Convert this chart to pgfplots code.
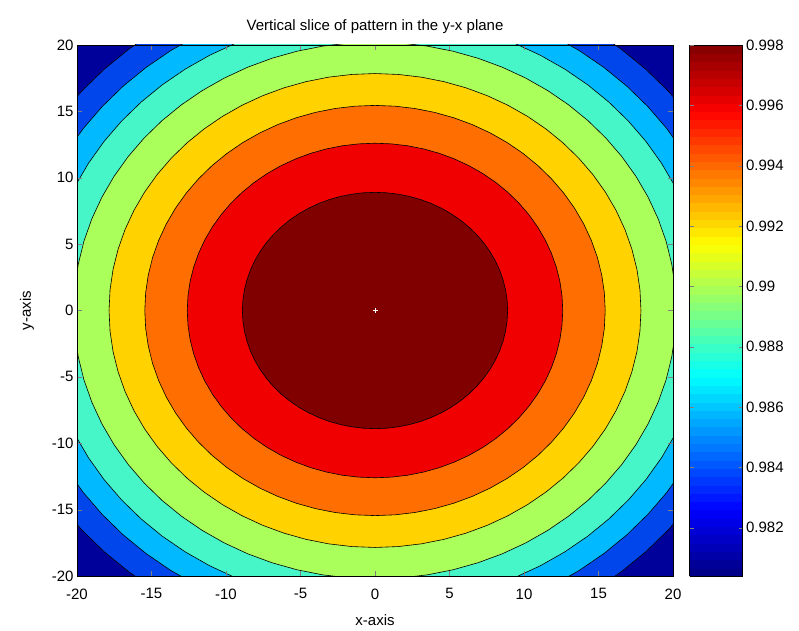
\documentclass[border=0pt]{standalone}
\usepackage{pgfplots}
\pgfplotsset{compat=1.18}
\usepackage{fontspec}
\setmainfont{Liberation Sans}
\definecolor{cDB}{RGB}{0,0,155}
\definecolor{cB}{RGB}{0,70,235}
\definecolor{cSky}{RGB}{0,185,255}
\definecolor{cTq}{RGB}{70,245,200}
\definecolor{cLG}{RGB}{170,255,90}
\definecolor{cY}{RGB}{255,210,0}
\definecolor{cO}{RGB}{255,110,0}
\definecolor{cR}{RGB}{240,0,0}
\definecolor{cDR}{RGB}{128,0,0}
\begin{document}
\begin{tikzpicture}
\useasboundingbox (-77pt,-54pt) rectangle (722pt,576pt);
\begin{axis}[
  scale only axis, width=596pt, height=531pt,
  xmin=-20, xmax=20, ymin=-20, ymax=20,
  xtick={-20,-15,-10,-5,0,5,10,15,20},
  ytick={-20,-15,-10,-5,0,5,10,15,20},
  tick align=inside, major tick length=5pt,
  axis on top,
  axis line style={line width=0.6pt},
  axis background/.style={fill=cDB},
  title={Vertical slice of pattern in the y-x plane},
  title style={font=\fontsize{15}{18}\selectfont, yshift=2pt},
  xlabel={x-axis}, ylabel={y-axis},
  xticklabel shift=9pt, xlabel shift=9pt, ylabel shift=11pt,
  every tick label/.append style={font=\fontsize{15}{18}\selectfont},
  label style={font=\fontsize{15}{18}\selectfont},
  /pgf/number format/assume math mode=true,
  colormap/jet,
  point meta min=0.9804, point meta max=0.998,
  colorbar sampled,
  colorbar style={
    samples=65,
    at={(parent axis.north east)}, anchor=north west, xshift=8pt,
    width=53pt,
    ytick={0.982,0.984,0.986,0.988,0.99,0.992,0.994,0.996,0.998},
    scaled y ticks=false,
    tick align=inside, major tick length=4pt,
    yticklabel style={font=\fontsize{15}{18}\selectfont,
      /pgf/number format/.cd, fixed, precision=3, assume math mode=true},
  },
]
% contour rings given as (angle in degrees, radius)
\addplot[data cs=polar, fill=cB, draw=black, line width=0.6pt] coordinates {
(0,25.7) (5,25.7) (10,25.7) (15,25.7) (20,25.7) (25,25.7) (30,25.7) (35,25.7) (40,25.7) (45,25.7)
(50,25.7) (55,25.7) (60,25.7) (65,25.7) (70,25.7) (75,25.7) (80,25.7) (85,25.7) (90,25.7)
(95,25.7) (100,25.7) (105,25.7) (110,25.7) (115,25.7) (120,25.7) (125,25.7) (130,25.7) (135,25.7)
(140,25.7) (145,25.7) (150,25.7) (155,25.7) (160,25.7) (165,25.7) (170,25.7) (175,25.7) (180,25.7)
(185,25.7) (190,25.7) (195,25.7) (200,25.7) (205,25.7) (210,25.7) (215,25.7) (220,25.7) (225,25.7)
(230,25.7) (235,25.7) (240,25.7) (245,25.7) (250,25.7) (255,25.7) (260,25.7) (265,25.7) (270,25.7)
(275,25.7) (280,25.7) (285,25.7) (290,25.7) (295,25.7) (300,25.7) (305,25.7) (310,25.7) (315,25.7)
(320,25.7) (325,25.7) (330,25.7) (335,25.7) (340,25.7) (345,25.7) (350,25.7) (355,25.7) (360,25.7)};
\addplot[data cs=polar, fill=cSky, draw=black, line width=0.6pt] coordinates {
(0,23.9) (5,23.9) (10,23.9) (15,23.9) (20,23.9) (25,23.9) (30,23.9) (35,23.9) (40,23.9) (45,23.9)
(50,23.9) (55,23.9) (60,23.9) (65,23.9) (70,23.9) (75,23.9) (80,23.9) (85,23.9) (90,23.9)
(95,23.9) (100,23.9) (105,23.9) (110,23.9) (115,23.9) (120,23.9) (125,23.9) (130,23.9) (135,23.9)
(140,23.9) (145,23.9) (150,23.9) (155,23.9) (160,23.9) (165,23.9) (170,23.9) (175,23.9) (180,23.9)
(185,23.9) (190,23.9) (195,23.9) (200,23.9) (205,23.9) (210,23.9) (215,23.9) (220,23.9) (225,23.9)
(230,23.9) (235,23.9) (240,23.9) (245,23.9) (250,23.9) (255,23.9) (260,23.9) (265,23.9) (270,23.9)
(275,23.9) (280,23.9) (285,23.9) (290,23.9) (295,23.9) (300,23.9) (305,23.9) (310,23.9) (315,23.9)
(320,23.9) (325,23.9) (330,23.9) (335,23.9) (340,23.9) (345,23.9) (350,23.9) (355,23.9) (360,23.9)};
\addplot[data cs=polar, fill=cTq, draw=black, line width=0.6pt] coordinates {
(0,22.2) (5,22.2) (10,22.2) (15,22.2) (20,22.2) (25,22.2) (30,22.2) (35,22.2) (40,22.2) (45,22.2)
(50,22.2) (55,22.2) (60,22.2) (65,22.2) (70,22.2) (75,22.2) (80,22.2) (85,22.2) (90,22.2)
(95,22.2) (100,22.2) (105,22.2) (110,22.2) (115,22.2) (120,22.2) (125,22.2) (130,22.2) (135,22.2)
(140,22.2) (145,22.2) (150,22.2) (155,22.2) (160,22.2) (165,22.2) (170,22.2) (175,22.2) (180,22.2)
(185,22.2) (190,22.2) (195,22.2) (200,22.2) (205,22.2) (210,22.2) (215,22.2) (220,22.2) (225,22.2)
(230,22.2) (235,22.2) (240,22.2) (245,22.2) (250,22.2) (255,22.2) (260,22.2) (265,22.2) (270,22.2)
(275,22.2) (280,22.2) (285,22.2) (290,22.2) (295,22.2) (300,22.2) (305,22.2) (310,22.2) (315,22.2)
(320,22.2) (325,22.2) (330,22.2) (335,22.2) (340,22.2) (345,22.2) (350,22.2) (355,22.2) (360,22.2)};
\addplot[data cs=polar, fill=cLG, draw=black, line width=0.6pt] coordinates {
(0,20.22) (5,20.22) (10,20.22) (15,20.22) (20,20.22) (25,20.22) (30,20.22) (35,20.22) (40,20.22) (45,20.22)
(50,20.22) (55,20.22) (60,20.22) (65,20.22) (70,20.22) (75,20.22) (80,20.22) (85,20.22) (90,20.22)
(95,20.22) (100,20.22) (105,20.22) (110,20.22) (115,20.22) (120,20.22) (125,20.22) (130,20.22) (135,20.22)
(140,20.22) (145,20.22) (150,20.22) (155,20.22) (160,20.22) (165,20.22) (170,20.22) (175,20.22) (180,20.22)
(185,20.22) (190,20.22) (195,20.22) (200,20.22) (205,20.22) (210,20.22) (215,20.22) (220,20.22) (225,20.22)
(230,20.22) (235,20.22) (240,20.22) (245,20.22) (250,20.22) (255,20.22) (260,20.22) (265,20.22) (270,20.22)
(275,20.22) (280,20.22) (285,20.22) (290,20.22) (295,20.22) (300,20.22) (305,20.22) (310,20.22) (315,20.22)
(320,20.22) (325,20.22) (330,20.22) (335,20.22) (340,20.22) (345,20.22) (350,20.22) (355,20.22) (360,20.22)};
\addplot[data cs=polar, fill=cY, draw=black, line width=0.6pt] coordinates {
(0,17.85) (5,17.85) (10,17.85) (15,17.85) (20,17.85) (25,17.85) (30,17.85) (35,17.85) (40,17.85) (45,17.85)
(50,17.85) (55,17.85) (60,17.85) (65,17.85) (70,17.85) (75,17.85) (80,17.85) (85,17.85) (90,17.85)
(95,17.85) (100,17.85) (105,17.85) (110,17.85) (115,17.85) (120,17.85) (125,17.85) (130,17.85) (135,17.85)
(140,17.85) (145,17.85) (150,17.85) (155,17.85) (160,17.85) (165,17.85) (170,17.85) (175,17.85) (180,17.85)
(185,17.85) (190,17.85) (195,17.85) (200,17.85) (205,17.85) (210,17.85) (215,17.85) (220,17.85) (225,17.85)
(230,17.85) (235,17.85) (240,17.85) (245,17.85) (250,17.85) (255,17.85) (260,17.85) (265,17.85) (270,17.85)
(275,17.85) (280,17.85) (285,17.85) (290,17.85) (295,17.85) (300,17.85) (305,17.85) (310,17.85) (315,17.85)
(320,17.85) (325,17.85) (330,17.85) (335,17.85) (340,17.85) (345,17.85) (350,17.85) (355,17.85) (360,17.85)};
\addplot[data cs=polar, fill=cO, draw=black, line width=0.6pt] coordinates {
(0,15.45) (5,15.45) (10,15.45) (15,15.45) (20,15.45) (25,15.45) (30,15.45) (35,15.45) (40,15.45) (45,15.45)
(50,15.45) (55,15.45) (60,15.45) (65,15.45) (70,15.45) (75,15.45) (80,15.45) (85,15.45) (90,15.45)
(95,15.45) (100,15.45) (105,15.45) (110,15.45) (115,15.45) (120,15.45) (125,15.45) (130,15.45) (135,15.45)
(140,15.45) (145,15.45) (150,15.45) (155,15.45) (160,15.45) (165,15.45) (170,15.45) (175,15.45) (180,15.45)
(185,15.45) (190,15.45) (195,15.45) (200,15.45) (205,15.45) (210,15.45) (215,15.45) (220,15.45) (225,15.45)
(230,15.45) (235,15.45) (240,15.45) (245,15.45) (250,15.45) (255,15.45) (260,15.45) (265,15.45) (270,15.45)
(275,15.45) (280,15.45) (285,15.45) (290,15.45) (295,15.45) (300,15.45) (305,15.45) (310,15.45) (315,15.45)
(320,15.45) (325,15.45) (330,15.45) (335,15.45) (340,15.45) (345,15.45) (350,15.45) (355,15.45) (360,15.45)};
\addplot[data cs=polar, fill=cR, draw=black, line width=0.6pt] coordinates {
(0,12.6) (5,12.6) (10,12.6) (15,12.6) (20,12.6) (25,12.6) (30,12.6) (35,12.6) (40,12.6) (45,12.6)
(50,12.6) (55,12.6) (60,12.6) (65,12.6) (70,12.6) (75,12.6) (80,12.6) (85,12.6) (90,12.6)
(95,12.6) (100,12.6) (105,12.6) (110,12.6) (115,12.6) (120,12.6) (125,12.6) (130,12.6) (135,12.6)
(140,12.6) (145,12.6) (150,12.6) (155,12.6) (160,12.6) (165,12.6) (170,12.6) (175,12.6) (180,12.6)
(185,12.6) (190,12.6) (195,12.6) (200,12.6) (205,12.6) (210,12.6) (215,12.6) (220,12.6) (225,12.6)
(230,12.6) (235,12.6) (240,12.6) (245,12.6) (250,12.6) (255,12.6) (260,12.6) (265,12.6) (270,12.6)
(275,12.6) (280,12.6) (285,12.6) (290,12.6) (295,12.6) (300,12.6) (305,12.6) (310,12.6) (315,12.6)
(320,12.6) (325,12.6) (330,12.6) (335,12.6) (340,12.6) (345,12.6) (350,12.6) (355,12.6) (360,12.6)};
\addplot[data cs=polar, fill=cDR, draw=black, line width=0.6pt] coordinates {
(0,8.9) (5,8.9) (10,8.9) (15,8.9) (20,8.9) (25,8.9) (30,8.9) (35,8.9) (40,8.9) (45,8.9)
(50,8.9) (55,8.9) (60,8.9) (65,8.9) (70,8.9) (75,8.9) (80,8.9) (85,8.9) (90,8.9)
(95,8.9) (100,8.9) (105,8.9) (110,8.9) (115,8.9) (120,8.9) (125,8.9) (130,8.9) (135,8.9)
(140,8.9) (145,8.9) (150,8.9) (155,8.9) (160,8.9) (165,8.9) (170,8.9) (175,8.9) (180,8.9)
(185,8.9) (190,8.9) (195,8.9) (200,8.9) (205,8.9) (210,8.9) (215,8.9) (220,8.9) (225,8.9)
(230,8.9) (235,8.9) (240,8.9) (245,8.9) (250,8.9) (255,8.9) (260,8.9) (265,8.9) (270,8.9)
(275,8.9) (280,8.9) (285,8.9) (290,8.9) (295,8.9) (300,8.9) (305,8.9) (310,8.9) (315,8.9)
(320,8.9) (325,8.9) (330,8.9) (335,8.9) (340,8.9) (345,8.9) (350,8.9) (355,8.9) (360,8.9)};
\addplot[only marks, mark=+, mark size=2.5pt, white, line width=1pt] coordinates {(0,0)};
\end{axis}
\end{tikzpicture}
\end{document}
